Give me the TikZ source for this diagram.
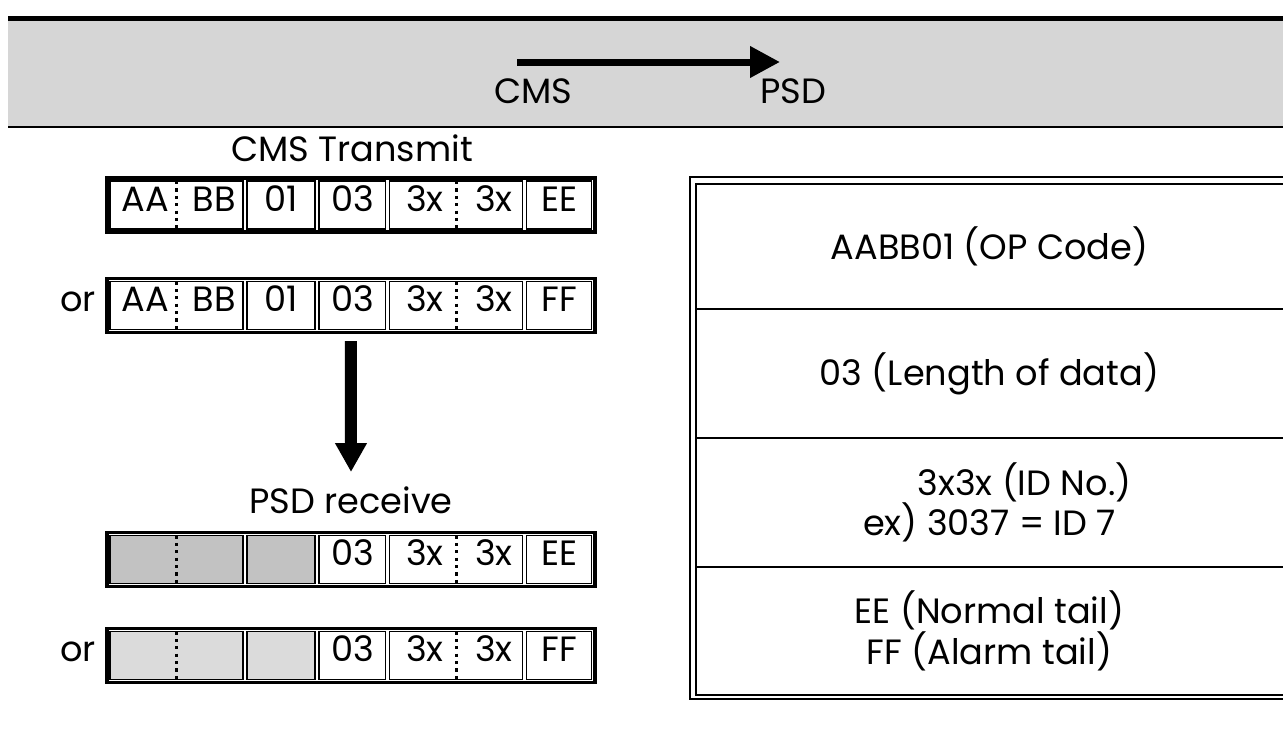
\documentclass[tikz,border=0pt]{standalone}
\usepackage{fontspec}
\setmainfont{Poppins}
\usetikzlibrary{positioning,fit,arrows.meta}

\begin{document}
\begin{tikzpicture}[
    x=0.02cm, y=-0.02cm,
    every node/.style={font=\fontsize{20}{23}\selectfont},
    txt/.style={text height=0.7em, text depth=0pt, inner sep=0pt},
    cell/.style={rectangle, draw, line width=0.6pt, minimum height=0.96cm, inner sep=0pt, outer sep=0pt, txt},
    greycell/.style={cell, fill=black!24},
    paler/.style={fill=black!14},
    frame/.style={rectangle, draw, line width=1.8pt, inner sep=0.06cm},
    divider/.style={line width=1.8pt, dash pattern=on 1.8pt off 2.4pt},
    field/.style={rectangle, minimum width=11.74cm, align=center, inner sep=0pt, outer sep=0pt},
    tableline/.style={line width=1.1pt},
    bigarrow/.style={-{Triangle[length=0.6cm,width=0.6cm]}, line width=0.14cm},
    downarrow/.style={-{Triangle[length=0.58cm,width=0.6cm]}, line width=0.24cm}
]
\useasboundingbox (0,0) rectangle (1283,737);

% Header band
\fill[black!16] (8,20) rectangle (1283,126);
\draw[line width=0.1cm] (8,18) -- (1283,18);
\draw[line width=1.2pt] (8,127) -- (1283,127);
\node[txt] (cms) at (533,97) {CMS};
\node[txt] (psd) at (793,97) {PSD};
\coordinate (sendfrom) at (517,62);
\coordinate (sendto) at (780,62);
\draw[bigarrow] (sendfrom) -- (sendto);

% CMS transmit packets
\node[txt] (txlabel) at (352,155) {CMS Transmit};

\node[cell, minimum width=2.66cm] (tx1ab) at (176.5,205) {};
\node[cell, minimum width=1.36cm, right=0.08cm of tx1ab] (tx1op) {01};
\node[cell, minimum width=1.34cm, right=0.08cm of tx1op] (tx1len) {03};
\node[cell, minimum width=2.66cm, right=0.08cm of tx1len] (tx1id) {};
\node[cell, minimum width=1.30cm, right=0.08cm of tx1id] (tx1tail) {EE};
\node[frame, fit=(tx1ab)(tx1tail)] (tx1) {};
\draw[divider] (tx1ab.north) -- (tx1ab.south);
\draw[divider] (tx1id.north) -- (tx1id.south);
\node[txt] (tx1aa) at ([xshift=-0.63cm]tx1ab.center) {AA};
\node[txt] (tx1bb) at ([xshift=0.76cm]tx1ab.center) {BB};
\node[txt] (tx1hi) at ([xshift=-0.63cm]tx1id.center) {3x};
\node[txt] (tx1lo) at ([xshift=0.75cm]tx1id.center) {3x};

\node[txt] (or2) at (78,305.5) {or};
\node[cell, minimum width=2.66cm] (tx2ab) at (176.5,305.5) {};
\node[cell, minimum width=1.36cm, right=0.08cm of tx2ab] (tx2op) {01};
\node[cell, minimum width=1.34cm, right=0.08cm of tx2op] (tx2len) {03};
\node[cell, minimum width=2.66cm, right=0.08cm of tx2len] (tx2id) {};
\node[cell, minimum width=1.30cm, right=0.08cm of tx2id] (tx2tail) {FF};
\node[frame, fit=(tx2ab)(tx2tail)] (tx2) {};
\draw[divider] (tx2ab.north) -- (tx2ab.south);
\draw[divider] (tx2id.north) -- (tx2id.south);
\node[txt] (tx2aa) at ([xshift=-0.63cm]tx2ab.center) {AA};
\node[txt] (tx2bb) at ([xshift=0.76cm]tx2ab.center) {BB};
\node[txt] (tx2hi) at ([xshift=-0.63cm]tx2id.center) {3x};
\node[txt] (tx2lo) at ([xshift=0.75cm]tx2id.center) {3x};

% Transfer
\coordinate (rxtip) at (351,472);
\draw[downarrow] ([yshift=-0.14cm]tx2.south) -- (rxtip);

% PSD receive packets
\node[txt] (rxlabel) at (351,507) {PSD receive};

\node[greycell, minimum width=2.66cm] (rx3ab) at (176.5,559.5) {};
\node[greycell, minimum width=1.36cm, right=0.08cm of rx3ab] (rx3op) {};
\node[cell, minimum width=1.34cm, right=0.08cm of rx3op] (rx3len) {03};
\node[cell, minimum width=2.66cm, right=0.08cm of rx3len] (rx3id) {};
\node[cell, minimum width=1.30cm, right=0.08cm of rx3id] (rx3tail) {EE};
\node[frame, fit=(rx3ab)(rx3tail)] (rx3) {};
\draw[divider] (rx3ab.north) -- (rx3ab.south);
\draw[divider] (rx3id.north) -- (rx3id.south);
\node[txt] (rx3hi) at ([xshift=-0.63cm]rx3id.center) {3x};
\node[txt] (rx3lo) at ([xshift=0.75cm]rx3id.center) {3x};

\node[txt] (or4) at (78,655.5) {or};
\node[greycell, paler, minimum width=2.66cm] (rx4ab) at (176.5,655.5) {};
\node[greycell, paler, minimum width=1.36cm, right=0.08cm of rx4ab] (rx4op) {};
\node[cell, minimum width=1.34cm, right=0.08cm of rx4op] (rx4len) {03};
\node[cell, minimum width=2.66cm, right=0.08cm of rx4len] (rx4id) {};
\node[cell, minimum width=1.30cm, right=0.08cm of rx4id] (rx4tail) {FF};
\node[frame, fit=(rx4ab)(rx4tail)] (rx4) {};
\draw[divider] (rx4ab.north) -- (rx4ab.south);
\draw[divider] (rx4id.north) -- (rx4id.south);
\node[txt] (rx4hi) at ([xshift=-0.63cm]rx4id.center) {3x};
\node[txt] (rx4lo) at ([xshift=0.75cm]rx4id.center) {3x};

% Field table
\node[field, minimum height=2.5cm] (opcode) at (989.5,246.5) {AABB01 (OP Code)};
\node[field, minimum height=2.58cm, below=0pt of opcode] (length) {03 (Length of data)};
\node[field, minimum height=2.58cm, below=0pt of length] (idno) {\hspace*{1.4cm}3x3x (ID No.)\\ex) 3037 = ID 7};
\node[field, minimum height=2.56cm, below=0pt of idno] (tail) {EE (Normal tail)\\FF (Alarm tail)};

\draw[tableline] (1283,177) -| (690,699) -- (1283,699);
\draw[tableline] (opcode.north east) -- (opcode.north west) -- (tail.south west) -- (tail.south east);
\draw[tableline] (opcode.south west) -- (opcode.south east);
\draw[tableline] (length.south west) -- (length.south east);
\draw[tableline] (idno.south west) -- (idno.south east);

\end{tikzpicture}
\end{document}
